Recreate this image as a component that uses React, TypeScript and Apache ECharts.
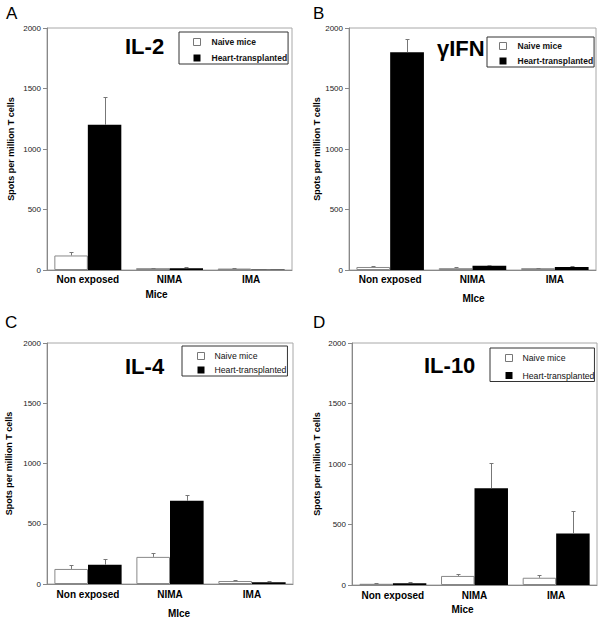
import React, { useEffect, useRef } from 'react';
import * as echarts from 'echarts';

const categories = ['Non exposed', 'NIMA', 'IMA'];
const seriesNames = ['Naive mice', 'Heart-transplanted'];

// IL-2
const il2Naive = [120, 15, 12];
const il2NaiveErr = [150, 20, 18];
const il2Heart = [1200, 15, 5];
const il2HeartErr = [1430, 22, 12];
// gamma IFN
const ifnNaive = [25, 15, 15];
const ifnNaiveErr = [32, 22, 20];
const ifnHeart = [1800, 35, 25];
const ifnHeartErr = [1905, 45, 32];
// IL-4
const il4Naive = [125, 225, 25];
const il4NaiveErr = [160, 255, 32];
const il4Heart = [160, 690, 15];
const il4HeartErr = [205, 740, 25];
// IL-10
const il10Naive = [10, 75, 60];
const il10NaiveErr = [15, 90, 80];
const il10Heart = [15, 800, 425];
const il10HeartErr = [22, 1010, 615];

const yMin = 0;
const yMax = 2000;
const yInterval = 500;
const yAxisName = 'Spots per million T cells';

const panels = [
  { letter: 'A', title: 'IL-2', xName: 'Mice', naive: il2Naive, naiveErr: il2NaiveErr, heart: il2Heart, heartErr: il2HeartErr },
  { letter: 'B', title: 'γIFN', xName: 'MIce', naive: ifnNaive, naiveErr: ifnNaiveErr, heart: ifnHeart, heartErr: ifnHeartErr },
  { letter: 'C', title: 'IL-4', xName: 'MIce', naive: il4Naive, naiveErr: il4NaiveErr, heart: il4Heart, heartErr: il4HeartErr },
  { letter: 'D', title: 'IL-10', xName: 'Mice', naive: il10Naive, naiveErr: il10NaiveErr, heart: il10Heart, heartErr: il10HeartErr },
];

const FONT = '"Liberation Sans", Arial, Helvetica, sans-serif';
const GAP = 0.18;

const layouts = [
  {
    grid: { left: 47, top: 28, width: 245, height: 242 },
    letter: { x: 6, y: 5 }, title: { x: 125, y: 35 },
    legend: { left: 179, top: 32, padding: [5, 1, 1, 14], itemGap: 6, bold: true, fontSize: 8.5, textPad: 6 },
    yNameGap: 32, xLabelMargin: 4, xNameGap: 19, xNamePad: [0, 26, 0, 0],
  },
  {
    grid: { left: 349, top: 28, width: 247, height: 242 },
    letter: { x: 313, y: 5 }, title: { x: 437, y: 37 },
    legend: { left: 487, top: 37, padding: [4, 1, 1, 12], itemGap: 5, bold: true, fontSize: 8.5, textPad: 6 },
    yNameGap: 24, xLabelMargin: 4, xNameGap: 23, xNamePad: [0, 0, 0, 2],
  },
  {
    grid: { left: 47, top: 343, width: 246, height: 241 },
    letter: { x: 5, y: 314 }, title: { x: 125, y: 355 },
    legend: { left: 182, top: 346, padding: [5, 1, 1, 15], itemGap: 4, bold: false, fontSize: 8.7, textPad: 5 },
    yNameGap: 34, xLabelMargin: 5, xNameGap: 24, xNamePad: [0, 0, 0, 18],
  },
  {
    grid: { left: 352, top: 343, width: 245, height: 242 },
    letter: { x: 313, y: 314 }, title: { x: 424, y: 354 },
    legend: { left: 490, top: 348, padding: [5, 0, 1, 15], itemGap: 7.5, bold: false, fontSize: 8.7, textPad: 5 },
    yNameGap: 31, xLabelMargin: 5, xNameGap: 19, xNamePad: [0, 24, 0, 0],
  },
];

function renderError(params: any, api: any) {
  const cat = api.value(0);
  const top = api.value(1);
  const side = api.value(2);
  const base = api.value(3);
  const pt = api.coord([cat, top]);
  const pb = api.coord([cat, base]);
  const band = api.size([1, 0])[0];
  const bw = (band * (1 - GAP)) / 2;
  const x = Math.round(pt[0] + (side === 0 ? -bw / 2 : bw / 2)) + 0.5;
  const y = Math.round(pt[1]) + 0.5;
  const style = { stroke: '#777', lineWidth: 1 };
  return {
    type: 'group',
    children: [
      { type: 'line', shape: { x1: x, y1: pb[1], x2: x, y2: y }, style },
      { type: 'line', shape: { x1: x - 2, y1: y, x2: x + 2, y2: y }, style },
    ],
  };
}

function buildOption() {
  const grid: any[] = [];
  const xAxis: any[] = [];
  const yAxis: any[] = [];
  const series: any[] = [];
  const legend: any[] = [];
  const title: any[] = [];

  panels.forEach((p, i) => {
    const L = layouts[i];
    grid.push({ ...L.grid, show: true, borderColor: '#a8a8a8', borderWidth: 1, backgroundColor: 'transparent' });
    xAxis.push({
      type: 'category', gridIndex: i, data: categories,
      axisLine: { lineStyle: { color: '#888', width: 1 } },
      axisTick: { show: false },
      axisLabel: { margin: L.xLabelMargin, fontFamily: FONT, fontSize: 10, fontWeight: 'bold', color: '#000' },
      name: p.xName, nameLocation: 'middle', nameGap: L.xNameGap,
      nameTextStyle: { fontFamily: FONT, fontSize: 10, fontWeight: 'bold', color: '#000', padding: L.xNamePad },
    });
    yAxis.push({
      type: 'value', gridIndex: i, min: yMin, max: yMax, interval: yInterval,
      axisLine: { show: true, lineStyle: { color: '#888', width: 1 } },
      axisTick: { show: true, length: 4, lineStyle: { color: '#888' } },
      splitLine: { show: false },
      axisLabel: { margin: 6, fontFamily: FONT, fontSize: 8, color: '#222', formatter: (v: number) => String(v) },
      name: yAxisName, nameLocation: 'middle', nameGap: L.yNameGap,
      nameTextStyle: { fontFamily: FONT, fontSize: 9, fontWeight: 'bold', color: '#000' },
    });
    series.push({
      type: 'bar', name: seriesNames[0], xAxisIndex: i, yAxisIndex: i, data: p.naive,
      barGap: '0%', barCategoryGap: GAP * 100 + '%',
      itemStyle: { color: '#ffffff', borderColor: '#888', borderWidth: 1 },
    });
    series.push({
      type: 'bar', name: seriesNames[1], xAxisIndex: i, yAxisIndex: i, data: p.heart,
      barGap: '0%', barCategoryGap: GAP * 100 + '%',
      itemStyle: { color: '#000000', borderColor: '#000', borderWidth: 0 },
    });
    const errData: number[][] = [];
    categories.forEach((_, c) => {
      errData.push([c, p.naiveErr[c], 0, p.naive[c]]);
      errData.push([c, p.heartErr[c], 1, p.heart[c]]);
    });
    series.push({
      type: 'custom', name: 'err' + i, xAxisIndex: i, yAxisIndex: i, data: errData,
      encode: { x: 0, y: 1 }, renderItem: renderError, z: 5, clip: false, silent: true,
    });
    const lg = L.legend;
    legend.push({
      orient: 'vertical', left: lg.left, top: lg.top, padding: lg.padding, itemGap: lg.itemGap,
      borderColor: '#333', borderWidth: 1, backgroundColor: '#fff',
      itemWidth: 7, itemHeight: 7, icon: 'rect', selectedMode: false,
      data: [
        { name: seriesNames[0], itemStyle: { color: '#fff', borderColor: '#777', borderWidth: 1 } },
        { name: seriesNames[1], itemStyle: { color: '#000', borderWidth: 0 } },
      ],
      textStyle: {
        fontFamily: FONT, fontSize: lg.fontSize, fontWeight: lg.bold ? 'bold' : 'normal',
        color: '#111', lineHeight: 10, padding: [0, 0, 0, lg.textPad],
      },
    });
    title.push({
      text: p.letter, left: L.letter.x, top: L.letter.y, padding: 0,
      textStyle: { fontFamily: FONT, fontSize: 17, fontWeight: 'normal', color: '#000' },
    });
    title.push({
      text: p.title, left: L.title.x, top: L.title.y, padding: 0,
      textStyle: { fontFamily: FONT, fontSize: 22, fontWeight: 'bold', color: '#000' },
    });
  });

  return { animation: false, backgroundColor: '#fff', grid, xAxis, yAxis, series, legend, title };
}

export default function App() {
  const ref = useRef<HTMLDivElement>(null);
  useEffect(() => {
    if (!ref.current) return;
    const chart = echarts.init(ref.current, null, { renderer: 'svg' });
    chart.setOption(buildOption() as any);
    return () => chart.dispose();
  }, []);
  return <div ref={ref} style={{ position: 'fixed', left: 0, top: 0, width: 604, height: 623 }} />;
}
